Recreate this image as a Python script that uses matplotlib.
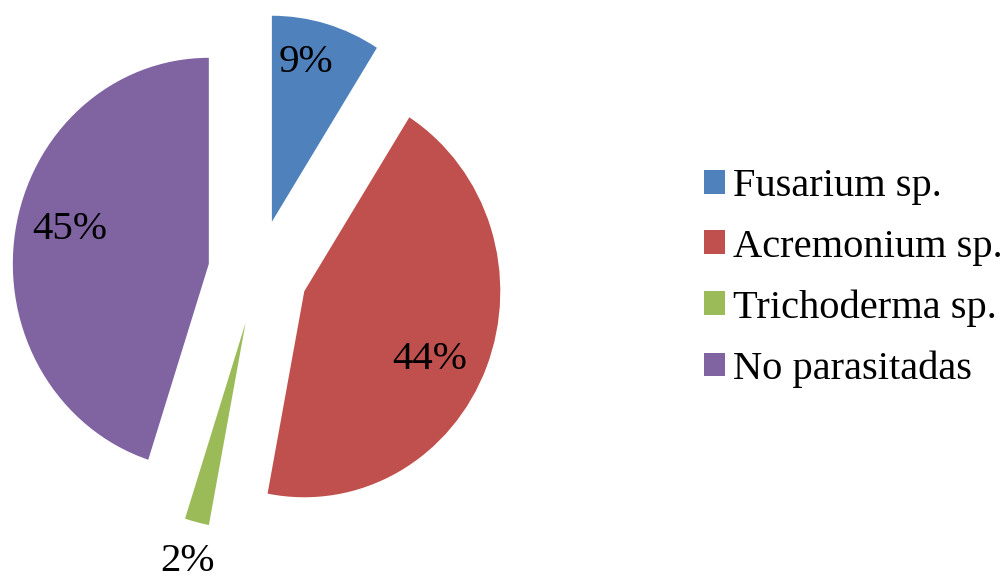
import numpy as np
import matplotlib.pyplot as plt

categorias = ['Fusarium sp.', 'Acremonium sp.', 'Trichoderma sp.', 'No parasitadas']
porcentajes = [9, 44, 2, 45]
colores = ['#4F81BD', '#C0504D', '#9BBB59', '#8064A2']

plt.rcParams['font.family'] = ['Liberation Serif', 'DejaVu Serif']

W, H = 1005, 579
fig = plt.figure(figsize=(W / 100, H / 100), dpi=100)
ax = fig.add_axes([0, 0, 1, 1])

# pie centre and radii in pixels (slightly squeezed horizontally)
cx, cy, rx, ry = 258, 272, 196, 206

explode = [0.254] * len(porcentajes)
wedges, _ = ax.pie(porcentajes, colors=colores, startangle=90, counterclock=False,
                   explode=explode, radius=1, center=(0, 0), frame=True,
                   wedgeprops=dict(linewidth=0))
ax.set_aspect('auto')
ax.set_xlim(-cx / rx, (W - cx) / rx)
ax.set_ylim(-(H - cy) / ry, cy / ry)
ax.axis('off')

# percentage labels: distance from slice apex and angle tweak (deg)
dist = [0.79, 0.72, 1.195, 0.73]
giro = [3.5, -5.6, 0.0, -4.3]
for w, p, d, g in zip(wedges, porcentajes, dist, giro):
    ang = np.deg2rad((w.theta1 + w.theta2) / 2 + g)
    x0, y0 = w.center
    ax.text(x0 + d * np.cos(ang), y0 + d * np.sin(ang), f'{p}%',
            ha='center', va='center', fontsize=29.5)

leg = ax.legend(wedges, categorias, loc='center left', bbox_to_anchor=(704 / W, 0.52),
                bbox_transform=fig.transFigure, frameon=False, fontsize=29.2,
                handlelength=0.52, handleheight=0.52, handletextpad=0.2,
                labelspacing=0.58, borderpad=0, borderaxespad=0)

fig.savefig('out.png', dpi=100)
